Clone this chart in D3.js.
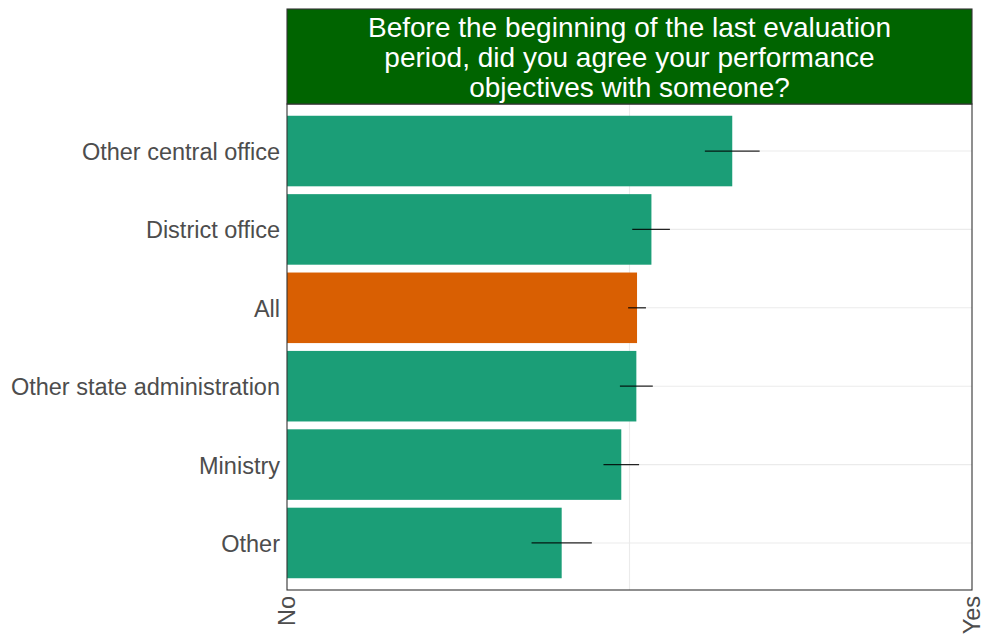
<!DOCTYPE html>
<html>
<head>
<meta charset="utf-8">
<script src="https://cdn.jsdelivr.net/npm/d3@7"></script>
<style>
  body { margin: 0; background: #fff; }
  text { font-family: "Liberation Sans", Arial, sans-serif; }
</style>
</head>
<body>
<svg id="chart" width="984" height="637"></svg>
<script>
// Share answering "Yes", by workplace, with confidence intervals
const categories = ["Other central office", "District office", "All", "Other state administration", "Ministry", "Other"];
const shareYes   = [0.650, 0.532, 0.511, 0.510, 0.488, 0.401];
const ciLow      = [0.610, 0.504, 0.498, 0.486, 0.462, 0.357];
const ciHigh     = [0.690, 0.559, 0.524, 0.534, 0.514, 0.445];
const highlight  = ["All"];
const xTickValues = [0, 1];
const xTickLabels = ["No", "Yes"];
const titleLines = [
  "Before the beginning of the last evaluation",
  "period, did you agree your performance",
  "objectives with someone?"
];

const rows = categories.map((c, i) => ({ cat: c, v: shareYes[i], lo: ciLow[i], hi: ciHigh[i] }));

const svg = d3.select("#chart");
const panel = { left: 287, right: 972, top: 104, bottom: 590 };
const strip = { top: 9, bottom: 104 };

const x = d3.scaleLinear().domain([0, 1]).range([panel.left, panel.right]);
// discrete axis with 0.6-unit padding on each end
const n = categories.length;
const unit = (panel.bottom - panel.top) / (n - 1 + 1.2);
const y = d3.scalePoint().domain(categories)
  .range([panel.top + 0.6 * unit, panel.bottom - 0.6 * unit]);
const barH = unit * 0.9;

// grid
const g = svg.append("g");
g.selectAll("line.hgrid").data(categories).join("line")
  .attr("x1", panel.left).attr("x2", panel.right)
  .attr("y1", d => y(d)).attr("y2", d => y(d))
  .attr("stroke", "#ebebeb").attr("stroke-width", 1.1);
g.append("line")
  .attr("x1", x(0.5)).attr("x2", x(0.5))
  .attr("y1", panel.top).attr("y2", panel.bottom)
  .attr("stroke", "#ebebeb").attr("stroke-width", 1.1);

// bars
g.selectAll("rect.bar").data(rows).join("rect")
  .attr("x", x(0))
  .attr("y", d => y(d.cat) - barH / 2)
  .attr("width", d => x(d.v) - x(0))
  .attr("height", barH)
  .attr("fill", d => highlight.includes(d.cat) ? "#d95f02" : "#1b9e77");

// confidence intervals
g.selectAll("line.ci").data(rows).join("line")
  .attr("x1", d => x(d.lo)).attr("x2", d => x(d.hi))
  .attr("y1", d => y(d.cat)).attr("y2", d => y(d.cat))
  .attr("stroke", "#000").attr("stroke-width", 1.3).attr("stroke-opacity", 0.85);

// panel border
svg.append("rect")
  .attr("x", panel.left).attr("y", panel.top)
  .attr("width", panel.right - panel.left).attr("height", panel.bottom - panel.top)
  .attr("fill", "none").attr("stroke", "#333").attr("stroke-width", 1.1);

// title strip
svg.append("rect")
  .attr("x", panel.left).attr("y", strip.top)
  .attr("width", panel.right - panel.left).attr("height", strip.bottom - strip.top)
  .attr("fill", "#006400").attr("stroke", "#333").attr("stroke-width", 1.1);
svg.append("text")
  .attr("x", (panel.left + panel.right) / 2)
  .attr("fill", "#fff").attr("font-size", 28).attr("text-anchor", "middle")
  .selectAll("tspan").data(titleLines).join("tspan")
  .attr("x", (panel.left + panel.right) / 2)
  .attr("y", (d, i) => 37 + i * 30)
  .text(d => d);

// y labels
svg.selectAll("text.ylab").data(categories).join("text")
  .attr("x", panel.left - 7).attr("y", d => y(d))
  .attr("dy", "0.38em").attr("text-anchor", "end")
  .attr("font-size", 23.5).attr("fill", "#4d4d4d")
  .text(d => d);

// x labels, rotated
svg.selectAll("text.xlab").data(xTickValues).join("text")
  .attr("transform", d => `translate(${x(d)},${panel.bottom + 6}) rotate(-90)`)
  .attr("dy", "0.35em").attr("text-anchor", "end")
  .attr("font-size", 23.5).attr("fill", "#4d4d4d")
  .text((d, i) => xTickLabels[i]);
</script>
</body>
</html>
